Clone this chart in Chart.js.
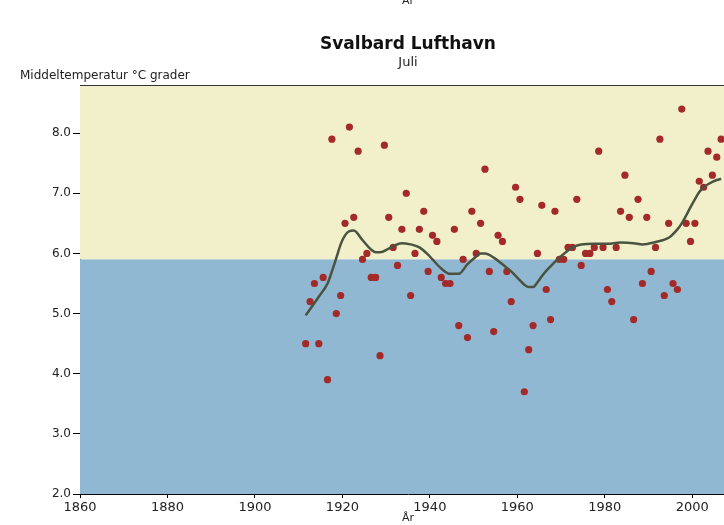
<!DOCTYPE html>
<html>
<head>
<meta charset="utf-8">
<script src="https://cdn.jsdelivr.net/npm/chart.js@4.4.1/dist/chart.umd.min.js"></script>
<style>
  html, body { margin: 0; padding: 0; background: #fff; overflow: hidden; }
  #wrap { width: 724px; height: 525px; overflow: hidden; }
</style>
</head>
<body>
<div id="wrap"><canvas id="chart" width="740" height="525"></canvas></div>
<script>
// July mean temperature, Svalbard Lufthavn, one value per year
const years = [];
for (let y = 1911; y <= 2006; y++) years.push(y);

const temps = [
  4.5, 5.2, 5.5, 4.5, 5.6, 3.9, 7.9, 5.0, 5.3, 6.5,   // 1911-1920
  8.1, 6.6, 7.7, 5.9, 6.0, 5.6, 5.6, 4.3, 7.8, 6.6,   // 1921-1930
  6.1, 5.8, 6.4, 7.0, 5.3, 6.0, 6.4, 6.7, 5.7, 6.3,   // 1931-1940
  6.2, 5.6, 5.5, 5.5, 6.4, 4.8, 5.9, 4.6, 6.7, 6.0,   // 1941-1950
  6.5, 7.4, 5.7, 4.7, 6.3, 6.2, 5.7, 5.2, 7.1, 6.9,   // 1951-1960
  3.7, 4.4, 4.8, 6.0, 6.8, 5.4, 4.9, 6.7, 5.9, 5.9,   // 1961-1970
  6.1, 6.1, 6.9, 5.8, 6.0, 6.0, 6.1, 7.7, 6.1, 5.4,   // 1971-1980
  5.2, 6.1, 6.7, 7.3, 6.6, 4.9, 6.9, 5.5, 6.6, 5.7,   // 1981-1990
  6.1, 7.9, 5.3, 6.5, 5.5, 5.4, 8.4, 6.5, 6.2, 6.5,   // 1991-2000
  7.2, 7.1, 7.7, 7.3, 7.6, 7.9                        // 2001-2006
];

// smoothed curve
const smoothYears = [1911, 1914, 1916, 1917, 1918, 1919, 1920, 1921, 1922, 1924, 1926, 1927, 1928,
  1930, 1931, 1933, 1935, 1936, 1937, 1939, 1940, 1942, 1944, 1946, 1948, 1950, 1951, 1952, 1954,
  1956, 1957, 1958, 1960, 1961, 1962, 1963, 1964, 1965, 1966, 1968, 1969, 1971, 1972, 1974, 1977,
  1980, 1983, 1986, 1988, 1991, 1994, 1996, 1997, 1998, 1999, 2000, 2001, 2002, 2003, 2005, 2006];
const smoothTemps = [4.97, 5.28, 5.5, 5.7, 5.92, 6.15, 6.3, 6.37, 6.38, 6.22, 6.06, 6.02, 6.02,
  6.08, 6.12, 6.17, 6.15, 6.13, 6.1, 5.98, 5.9, 5.75, 5.66, 5.66, 5.82, 5.95, 6.0, 6.0, 5.93,
  5.82, 5.76, 5.7, 5.55, 5.48, 5.44, 5.44, 5.52, 5.62, 5.71, 5.86, 5.93, 6.05, 6.1, 6.15, 6.16,
  6.16, 6.18, 6.17, 6.15, 6.19, 6.26, 6.4, 6.5, 6.63, 6.77, 6.9, 7.02, 7.1, 7.15, 7.22, 7.24];

const meanTemp = 5.9;          // split between the two background bands
const xTicks = [1860, 1880, 1900, 1920, 1940, 1960, 1980, 2000];
const yTicks = [2, 3, 4, 5, 6, 7, 8];
const midYear = 0.6;           // July sits a bit past the year mark

const FONT = 'DejaVu Sans';

const bandsPlugin = {
  id: 'bands',
  beforeDatasetsDraw(chart) {
    const { ctx, chartArea: a, scales } = chart;
    const ym = scales.y.getPixelForValue(meanTemp);
    ctx.save();
    ctx.fillStyle = '#f1f0cb';
    ctx.fillRect(a.left, a.top, a.right - a.left, ym - a.top);
    ctx.fillStyle = '#91b8d3';
    ctx.fillRect(a.left, ym, a.right - a.left, a.bottom - ym);
    // top frame line
    ctx.strokeStyle = '#333';
    ctx.lineWidth = 1;
    ctx.beginPath();
    ctx.moveTo(a.left, a.top + 0.5);
    ctx.lineTo(a.right, a.top + 0.5);
    ctx.stroke();
    ctx.restore();
  },
  afterDraw(chart) {
    const { ctx, chartArea: a } = chart;
    ctx.save();
    ctx.fillStyle = '#222';
    ctx.font = '12px "' + FONT + '"';
    ctx.textBaseline = 'middle';
    ctx.textAlign = 'left';
    ctx.fillText('Middeltemperatur °C grader', 20, 76);
    // leftover axis title cut off at the top edge
    ctx.font = '11px "' + FONT + '"';
    ctx.textAlign = 'center';
    ctx.fillText('År', (a.left + a.right) / 2, 1);
    ctx.restore();
  }
};

const chart = new Chart(document.getElementById('chart'), {
  type: 'scatter',
  data: {
    datasets: [
      {
        label: 'Glattet',
        type: 'line',
        data: smoothYears.map((y, i) => ({ x: y + midYear, y: smoothTemps[i] })),
        borderColor: '#4a5340',
        borderWidth: 2.5,
        pointRadius: 0,
        tension: 0.4,
        cubicInterpolationMode: 'monotone',
        fill: false,
        order: 0
      },
      {
        label: 'Juli',
        data: years.map((y, i) => ({ x: y + midYear, y: temps[i] })),
        backgroundColor: '#a32a28',
        borderWidth: 0,
        pointRadius: 3.6,
        order: 1
      }
    ]
  },
  options: {
    responsive: false,
    animation: false,
    layout: { padding: { left: 0, right: 0, top: 0, bottom: 0 } },
    plugins: {
      legend: { display: false },
      tooltip: { enabled: false },
      title: {
        display: true,
        fullSize: false,
        text: 'Svalbard Lufthavn',
        color: '#111',
        font: { family: FONT, size: 17, weight: 'bold', lineHeight: 1.2 },
        padding: { top: 34, bottom: 0 }
      },
      subtitle: {
        display: true,
        fullSize: false,
        text: 'Juli',
        color: '#222',
        font: { family: FONT, size: 13, lineHeight: 1.2 },
        padding: { top: 0, bottom: 15 }
      }
    },
    scales: {
      x: {
        type: 'linear',
        min: 1860,
        max: 2010,
        afterBuildTicks: (s) => { s.ticks = xTicks.map(v => ({ value: v })); },
        afterFit: (s) => { s.height = 31; s.paddingLeft = 0; s.paddingRight = 0; },
        ticks: {
          color: '#222',
          font: { family: FONT, size: 13 },
          padding: 2,
          maxRotation: 0,
          autoSkip: false,
          callback: (v) => String(v)
        },
        grid: { drawOnChartArea: false, drawTicks: true, tickLength: 4, color: '#000' },
        border: { display: true, color: '#000', width: 1 },
        title: {
          display: true,
          text: 'År',
          color: '#222',
          font: { family: FONT, size: 11, lineHeight: 1.2 },
          padding: { top: 0, bottom: 0 }
        }
      },
      y: {
        min: 2,
        max: 8.8,
        afterBuildTicks: (s) => { s.ticks = yTicks.map(v => ({ value: v })); },
        afterFit: (s) => { s.width = 80; },
        ticks: {
          color: '#222',
          font: { family: FONT, size: 12 },
          padding: 2,
          callback: (v) => v.toFixed(1)
        },
        grid: { drawOnChartArea: false, drawTicks: true, tickLength: 7, color: '#000' },
        border: { display: true, color: '#000', width: 1 }
      }
    }
  },
  plugins: [bandsPlugin]
});
</script>
</body>
</html>
